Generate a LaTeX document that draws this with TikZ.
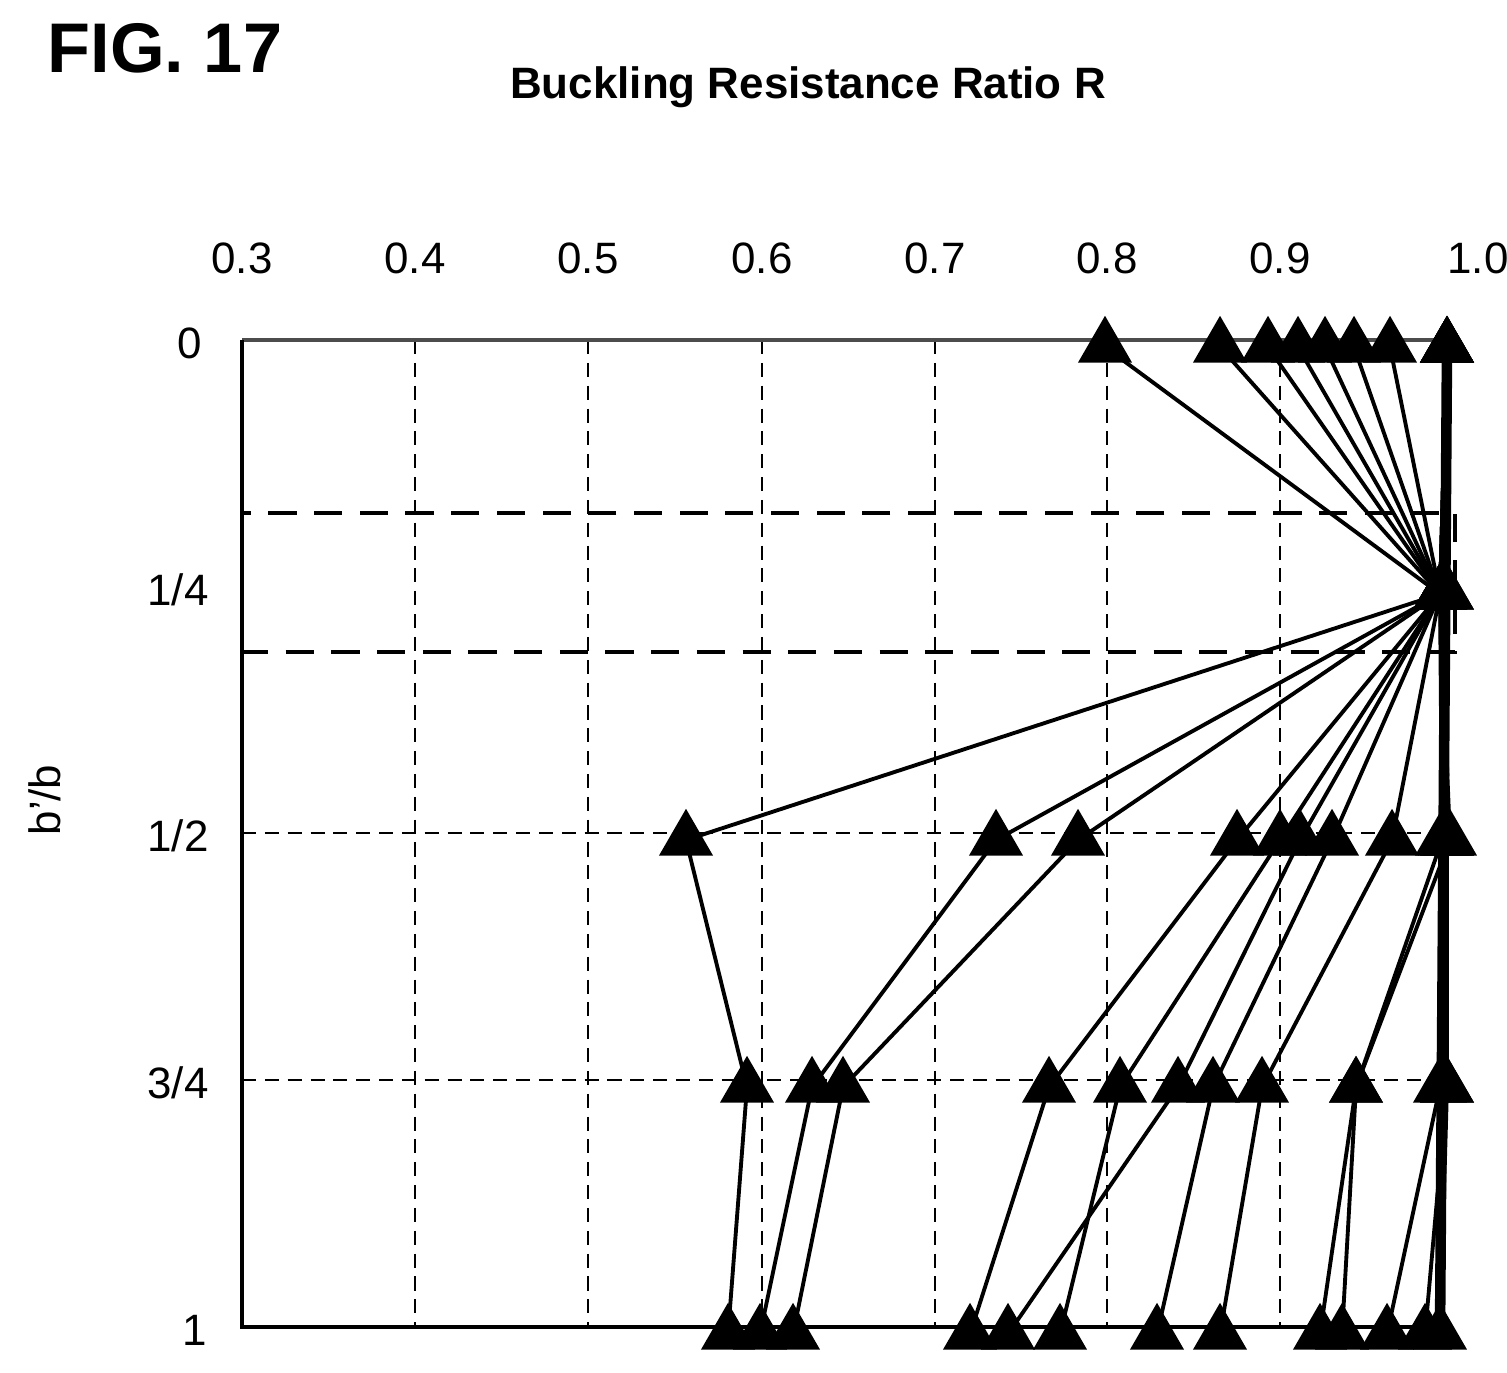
\documentclass[tikz,border=0pt]{standalone}
\usepackage{fontspec}
\setmainfont{Liberation Sans}
\usetikzlibrary{shapes.geometric}
\begin{document}
\begin{tikzpicture}[x=0.02cm,y=-0.02cm,
 tri/.style={regular polygon,regular polygon sides=3,fill=black,minimum size=1.25cm,inner sep=0pt,yshift=-4pt},
 grid/.style={dashed,line width=0.8pt,dash pattern=on 8pt off 5pt},
 ser/.style={line width=2.2pt},
 tick/.style={font=\fontsize{25}{28}\selectfont}]
\useasboundingbox (0,0) rectangle (1507,1372);
\node[font=\bfseries\fontsize{40}{44}\selectfont] (fig) at (165,48) {FIG. 17};
\node[font=\bfseries\fontsize{25}{28}\selectfont] (title) at (808,87) {Buckling Resistance Ratio R};
\foreach \x in {415,588,762,935,1107,1280} \draw[grid] (\x,340) -- (\x,1327);
\foreach \y in {833,1080} \draw[grid] (242,\y) -- (1450,\y);
\draw[line width=2.5pt,gray!60!black] (242,340) -- (1450,340);
\draw[line width=2pt] (242,340) -- (242,1327) -- (1450,1327);
\draw[grid,line width=2pt,dash pattern=on 16pt off 10pt] (242,513) rectangle (1455,652);
\foreach \v/\x in {0.3/242,0.4/415,0.5/588,0.6/762,0.7/935,0.8/1107,0.9/1280,1.0/1478}
  \node[tick] (tx\x) at (\x,258) {\v};
\node[tick] (ly0) at (190,343) {0};
\node[tick] (ly1) at (178,590) {1/4};
\node[tick] (ly2) at (178,836) {1/2};
\node[tick] (ly3) at (178,1083) {3/4};
\node[tick] (ly4) at (195,1330) {1};
\node[tick,rotate=90] (yl) at (45,800) {b'/b};
\foreach \a/\b/\c/\d/\e [count=\i] in {
 1105/1440/686/747/728, 1220/1440/996/812/760, 1268/1440/1078/843/793,
 1298/1440/1237/1049/970, 1325/1440/1280/1120/1060, 1354/1440/1300/1178/1008,
 1390/1440/1332/1213/1157, 1447/1440/1392/1262/1220, 1447/1440/1442/1356/1320,
 1447/1440/1450/1356/1342, 1447/1440/1445/1440/1387, 1447/1447/1447/1447/1425,
 1447/1447/1447/1447/1440}{
  \node[tri] (p\i-0) at (\a,340) {};
  \node[tri] (p\i-1) at (\b,587) {};
  \node[tri] (p\i-2) at (\c,833) {};
  \node[tri] (p\i-3) at (\d,1080) {};
  \node[tri] (p\i-4) at (\e,1327) {};
  \draw[ser] (p\i-0.center) -- (p\i-1.center) -- (p\i-2.center) -- (p\i-3.center) -- (p\i-4.center);
}
\draw[line width=6pt] (p13-0.center) -- (p13-4.center);
\end{tikzpicture}
\end{document}
